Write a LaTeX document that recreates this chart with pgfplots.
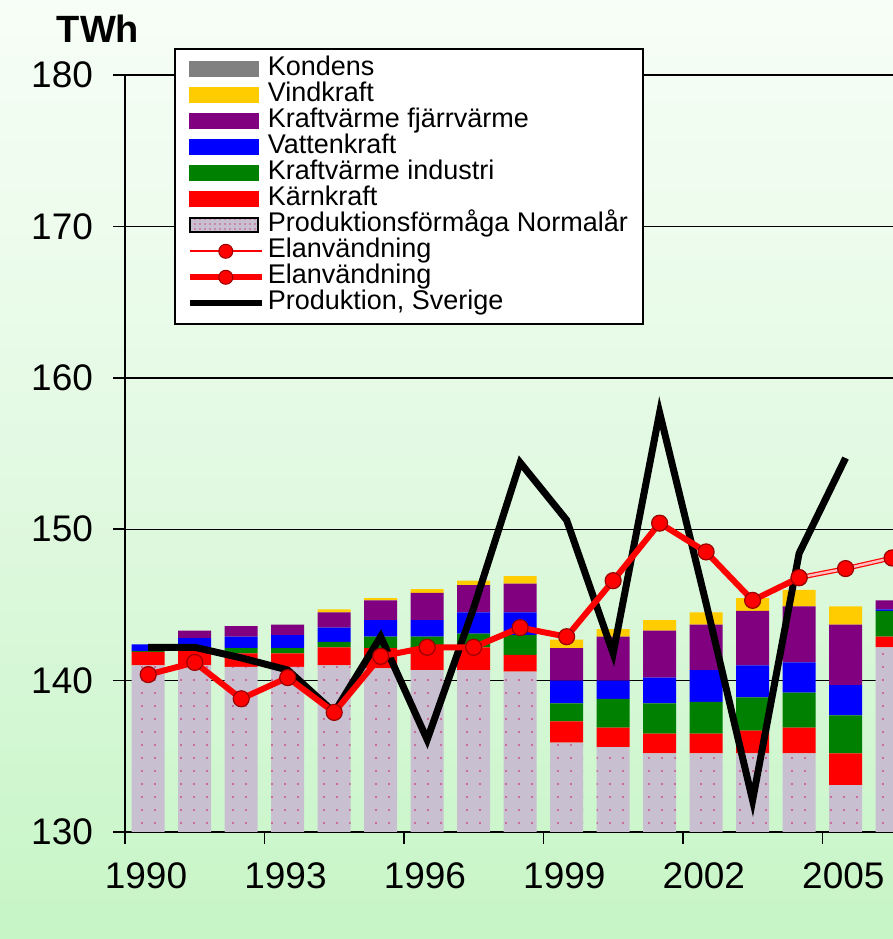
\documentclass[border=0pt]{standalone}
\usepackage{pgfplots}
\pgfplotsset{compat=1.18}
\usepackage{pgfplotstable}
\usepackage{fontspec}
\setmainfont{Liberation Sans}
\usetikzlibrary{patterns.meta}

\definecolor{kondens}{HTML}{808080}
\definecolor{vind}{HTML}{FFCC00}
\definecolor{fjarr}{HTML}{800080}
\definecolor{vatten}{HTML}{0000FF}
\definecolor{industri}{HTML}{008000}
\definecolor{karn}{HTML}{FF0000}
\definecolor{normal}{HTML}{C8C0D0}
\definecolor{dotpink}{HTML}{C8508A}
\definecolor{bgtop}{HTML}{F7FEF7}
\definecolor{bgmid}{HTML}{E2F9E2}
\definecolor{bgbot}{HTML}{C6F5C6}
\definecolor{markedge}{HTML}{9A0000}

% Production capacity (normal year) and additions per source, TWh
\pgfplotstableread{
year base karn industri vatten fjarr vind kondens
1990 141.0 0.90 0.05 0.45 0.00 0.00 0
1991 141.0 1.00 0.20 0.60 0.50 0.00 0
1992 140.9 0.90 0.35 0.75 0.70 0.00 0
1993 140.9 0.90 0.35 0.85 0.70 0.00 0
1994 141.0 1.20 0.35 0.95 1.00 0.20 0
1995 140.8 1.35 0.75 1.10 1.30 0.15 0
1996 140.7 1.45 0.75 1.10 1.80 0.25 0
1997 140.7 1.50 0.90 1.40 1.80 0.30 0
1998 140.6 1.10 1.30 1.50 1.90 0.50 0
1999 135.9 1.40 1.20 1.50 2.15 0.55 0
2000 135.6 1.30 1.90 1.20 2.90 0.50 0
2001 135.2 1.30 2.00 1.70 3.10 0.70 0
2002 135.2 1.30 2.10 2.10 3.00 0.80 0
2003 135.2 1.50 2.20 2.10 3.60 0.85 0
2004 135.2 1.70 2.30 2.00 3.70 1.10 0
2005 133.1 2.10 2.50 2.00 4.00 1.20 0
2006 142.2 0.70 1.70 0.10 0.60 0.00 0
}\prodtable

\pgfplotsset{
  frame/.style={width=384pt, height=378.5pt, scale only axis,
    xmin=1989.5, xmax=2006.02, ymin=130, ymax=180,
    at={(62.5pt,53.5pt)}, anchor=south west},
}

\begin{document}
\begin{tikzpicture}[x=1pt,y=1pt]
\shade[top color=bgtop, bottom color=bgbot, middle color=bgmid] (0,0) rectangle (446.5,469.5);
\path[use as bounding box] (0,0) rectangle (446.5,469.5);

\node[font=\fontsize{19}{19}\selectfont\bfseries, anchor=base] at (49,448) {TWh};

% stacked bars
\begin{axis}[frame,
  ybar stacked, bar width=16.5pt,
  axis x line*=bottom, axis y line*=left,
  axis line style={black, line width=0.8pt, -},
  tick align=outside, major tick length=6pt,
  tick style={black, line width=0.8pt},
  ytick={130,140,...,180}, ymajorgrids,
  grid style={black, line width=0.7pt},
  xtick={1989.5,1992.5,...,2004.5},
  xticklabels={1990,1993,1996,1999,2002,2005},
  xticklabel style={xshift=10.5pt, yshift=-6pt},
  yticklabel style={xshift=-6.5pt},
  ticklabel style={font=\fontsize{18.5}{18.5}\selectfont},
  /pgf/number format/assume math mode=true,
]
\addplot[fill=normal, draw=none,
  postaction={pattern={Dots[radius=0.6pt, distance=6.5pt]}, pattern color=dotpink}]
  table[x=year, y=base] {\prodtable};
\addplot[fill=karn, draw=none] table[x=year, y=karn] {\prodtable};
\addplot[fill=industri, draw=none] table[x=year, y=industri] {\prodtable};
\addplot[fill=vatten, draw=none] table[x=year, y=vatten] {\prodtable};
\addplot[fill=fjarr, draw=none] table[x=year, y=fjarr] {\prodtable};
\addplot[fill=vind, draw=none] table[x=year, y=vind] {\prodtable};
\addplot[fill=kondens, draw=none] table[x=year, y=kondens] {\prodtable};
\end{axis}

% lines and legend
\begin{axis}[frame, hide axis,
  legend cell align=left,
  legend style={at={(0.0638,1.0357)}, anchor=north west,
    draw=black, line width=0.8pt, fill=white,
    inner xsep=6pt, inner ysep=4pt, row sep=0.5pt,
    font=\fontsize{13.5}{13.5}\selectfont,
    nodes={inner ysep=0pt, inner xsep=1.5pt, text height=9.5pt, text depth=3pt}},
]
\addplot[black, line width=3.5pt, forget plot] coordinates {
  (1990,142.2) (1991,142.2) (1992,141.5) (1993,140.7) (1994,137.9)
  (1995,142.9) (1996,136.1) (1997,144.8) (1998,154.4) (1999,150.6)
  (2000,141.8) (2001,157.7) (2002,145.1) (2003,132.1) (2004,148.4)
  (2005,154.7)};
\addplot[red, line width=3pt, mark=*, mark size=4pt,
  mark options={fill=red, draw=markedge, line width=0.6pt}, forget plot] coordinates {
  (1990,140.4) (1991,141.2) (1992,138.8) (1993,140.2) (1994,137.9)
  (1995,141.6) (1996,142.2) (1997,142.2) (1998,143.5) (1999,142.9)
  (2000,146.6) (2001,150.4) (2002,148.5) (2003,145.3) (2004,146.8)};
\addplot[red, line width=0.6pt, double=red!25, double distance=1.2pt, mark=*, mark size=4pt,
  mark options={fill=red, draw=markedge, line width=0.6pt, solid}, forget plot] coordinates {
  (2004,146.8) (2005,147.4) (2006,148.1)};

\addlegendimage{legend image code/.code={\fill[kondens] (0pt,-3.5pt) rectangle (34pt,3.5pt);}}
\addlegendentry{Kondens}
\addlegendimage{legend image code/.code={\fill[vind] (0pt,-3.5pt) rectangle (34pt,3.5pt);}}
\addlegendentry{Vindkraft}
\addlegendimage{legend image code/.code={\fill[fjarr] (0pt,-3.5pt) rectangle (34pt,3.5pt);}}
\addlegendentry{Kraftvärme fjärrvärme}
\addlegendimage{legend image code/.code={\fill[vatten] (0pt,-3.5pt) rectangle (34pt,3.5pt);}}
\addlegendentry{Vattenkraft}
\addlegendimage{legend image code/.code={\fill[industri] (0pt,-3.5pt) rectangle (34pt,3.5pt);}}
\addlegendentry{Kraftvärme industri}
\addlegendimage{legend image code/.code={\fill[karn] (0pt,-3.5pt) rectangle (34pt,3.5pt);}}
\addlegendentry{Kärnkraft}
\addlegendimage{legend image code/.code={\fill[normal] (0pt,-3.5pt) rectangle (34pt,3.5pt);
  \fill[pattern={Dots[radius=0.4pt, distance=2.5pt]}, pattern color=dotpink] (0pt,-3.5pt) rectangle (34pt,3.5pt);}}
\addlegendentry{Produktionsförmåga Normalår}
\addlegendimage{red, line width=0.8pt, mark=*, mark size=3.5pt,
  mark options={fill=red, draw=markedge, line width=0.5pt},
  legend image code/.code={\draw[mark repeat=2, mark phase=2] plot coordinates {(0pt,0pt) (18pt,0pt) (36pt,0pt)};}}
\addlegendentry{Elanvändning}
\addlegendimage{red, line width=3pt, mark=*, mark size=3.5pt,
  mark options={fill=red, draw=markedge, line width=0.5pt},
  legend image code/.code={\draw[mark repeat=2, mark phase=2] plot coordinates {(0pt,0pt) (18pt,0pt) (36pt,0pt)};}}
\addlegendentry{Elanvändning}
\addlegendimage{black, line width=3pt,
  legend image code/.code={\draw (0pt,0pt) -- (36pt,0pt);}}
\addlegendentry{Produktion, Sverige}
\end{axis}
\end{tikzpicture}
\end{document}
